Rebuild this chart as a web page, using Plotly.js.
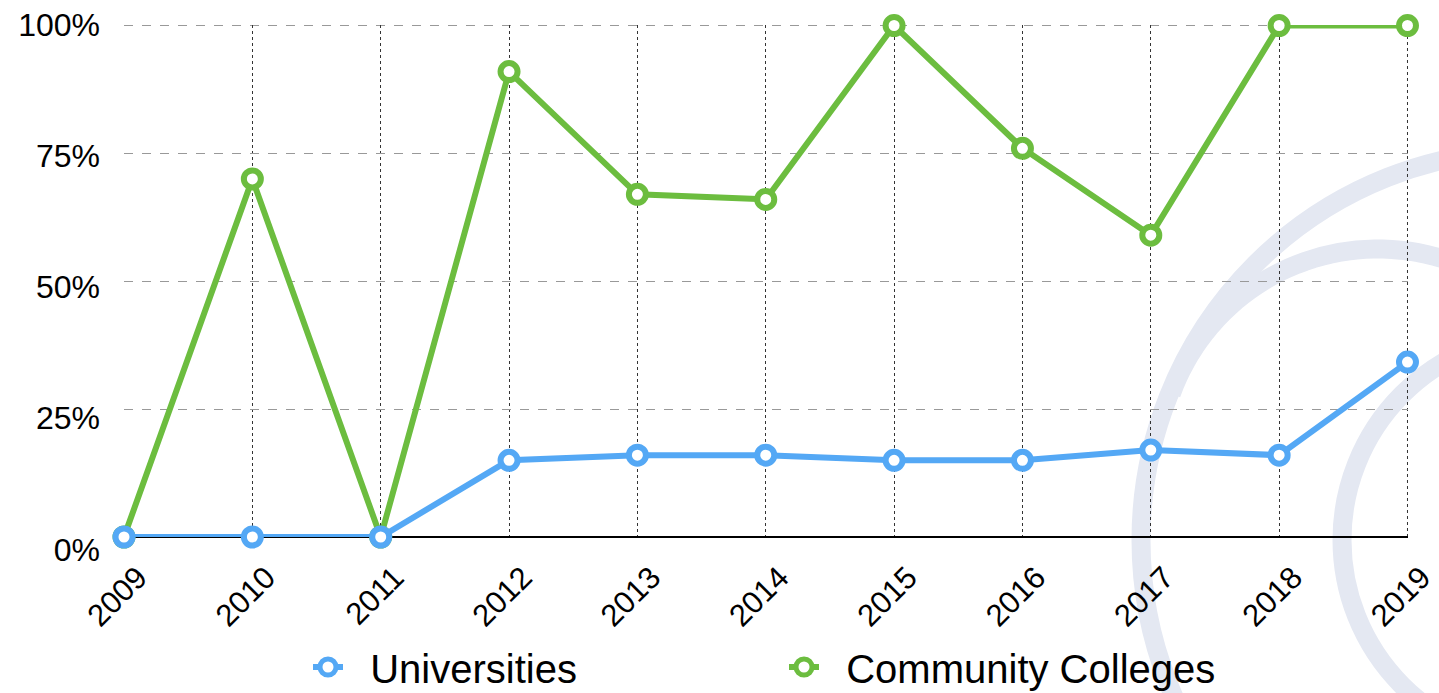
<!DOCTYPE html>
<html>
<head>
<meta charset="utf-8">
<script src="https://cdn.plot.ly/plotly-3.0.1.min.js"></script>
<style>html,body{margin:0;padding:0;background:#fff;}#chart{width:1439px;height:693px;}</style>
</head>
<body>
<div id="chart"></div>
<script>
const years = [2009, 2010, 2011, 2012, 2013, 2014, 2015, 2016, 2017, 2018, 2019];
const universities = [0, 0, 0, 15, 16, 16, 15, 15, 17, 16, 34.2];
const communityColleges = [0, 70, 0, 91, 67, 66, 100, 76, 59, 100, 100];
const yTicks = [0, 25, 50, 75, 100];
const yTickLabels = ['0%', '25%', '50%', '75%', '100%'];

const W = 1439, H = 693;
const M = {l: 124, r: 31, t: 10, b: 123, autoexpand: false};
const pw = W - M.l - M.r, ph = H - M.t - M.b;
const px = (x) => (x - M.l) / pw;
const py = (y) => (H - M.b - y) / ph;
const WM = '#e4e8f2';
const HGRID = '#999', VGRID = '#333';
function circ(cx, cy, r, w) {
  return {
    type: 'circle', xref: 'paper', yref: 'paper', layer: 'below',
    x0: px(cx - r), x1: px(cx + r), y0: py(cy + r), y1: py(cy - r),
    line: {color: WM, width: w}, fillcolor: 'rgba(0,0,0,0)'
  };
}
function arc(cx, cy, r, a0, a1, w) {
  let d = '';
  const n = 40;
  for (let i = 0; i <= n; i++) {
    const a = (a0 + (a1 - a0) * i / n) * Math.PI / 180;
    const X = cx + r * Math.cos(a), Y = cy + r * Math.sin(a);
    d += (i === 0 ? 'M ' : ' L ') + px(X).toFixed(5) + ',' + py(Y).toFixed(5);
  }
  return {type: 'path', xref: 'paper', yref: 'paper', layer: 'below', path: d,
          line: {color: WM, width: w}};
}
const xMax = years[years.length - 1], xMin = years[0];
const yMax = yTicks[yTicks.length - 1];
// boundary gridlines (Plotly omits the ones at the range ends)
const edgeGrid = [
  {type: 'line', xref: 'x', yref: 'y', layer: 'below', x0: xMin, x1: xMax, y0: yMax, y1: yMax,
   line: {color: HGRID, width: 1, dash: 'dash'}},
  {type: 'line', xref: 'x', yref: 'y', layer: 'below', x0: xMax, x1: xMax, y0: 0, y1: yMax,
   line: {color: VGRID, width: 1, dash: 'dot'}}
];

const mk = (c) => ({symbol: 'circle', size: 17, color: '#ffffff', line: {color: c, width: 6}});
const traces = [
  {x: years, y: communityColleges, name: '\u00a0\u00a0Community Colleges', type: 'scatter', mode: 'lines+markers',
   line: {color: '#6cbd3f', width: 6}, marker: mk('#6cbd3f'), cliponaxis: false},
  {x: years, y: universities, name: '\u00a0\u00a0Universities', type: 'scatter', mode: 'lines+markers',
   line: {color: '#54a8f5', width: 6}, marker: mk('#54a8f5'), cliponaxis: false},
  // carrier for the y tick-label axis (draws nothing)
  {x: years, y: universities, xaxis: 'x3', yaxis: 'y2', mode: 'none', showlegend: false, hoverinfo: 'skip'}
];

const layout = {
  width: W, height: H,
  margin: M,
  paper_bgcolor: '#ffffff', plot_bgcolor: 'rgba(0,0,0,0)',
  font: {family: 'Liberation Sans, Arial, sans-serif', color: '#000'},
  showlegend: true,
  legend: {orientation: 'h', traceorder: 'reversed', x: px(308), xanchor: 'left', y: py(667), yanchor: 'middle',
           font: {size: 40, color: '#000'}, entrywidth: 431, entrywidthmode: 'pixels', itemwidth: 30,
           bgcolor: 'rgba(0,0,0,0)'},
  xaxis: {domain: [0, 1], anchor: 'y', range: [2009, 2019.004], tickmode: 'array', tickvals: years,
          ticktext: years.map(String), tickangle: -45, tickfont: {size: 31},
          ticklabelshift: 14, ticklabelstandoff: 15, ticklabeloverflow: 'allow',
          showgrid: true, gridcolor: VGRID, griddash: 'dot', gridwidth: 1,
          zeroline: false, showline: false, ticks: '', automargin: false, fixedrange: true},
  yaxis: {domain: [py(537), py(25)], anchor: 'x', range: [0, 100.1], tickmode: 'array', tickvals: yTicks,
          showticklabels: false, showgrid: true, gridcolor: HGRID, griddash: 'dash', gridwidth: 1,
          zeroline: true, zerolinecolor: '#000', zerolinewidth: 1.5, showline: false, ticks: '',
          automargin: false, fixedrange: true},
  xaxis3: {domain: [0, 1], anchor: 'y2', range: [2009, 2019], visible: false, showgrid: false,
           zeroline: false, fixedrange: true},
  yaxis2: {domain: [py(549.5), py(24.5)], anchor: 'x3', side: 'left', range: [0, 100], tickmode: 'array',
           tickvals: yTicks, ticktext: yTickLabels, tickfont: {size: 32}, ticklabelstandoff: 23,
           ticklabeloverflow: 'allow', showgrid: false, zeroline: false, showline: false, ticks: '',
           automargin: false, fixedrange: true},
  shapes: [circ(1531, 540, 390, 19), arc(1378, 469, 220, 200, 292, 19), circ(1548, 540, 206, 19)].concat(edgeGrid)
};
Plotly.newPlot('chart', traces, layout, {displayModeBar: false, staticPlot: true});
</script>
</body>
</html>
